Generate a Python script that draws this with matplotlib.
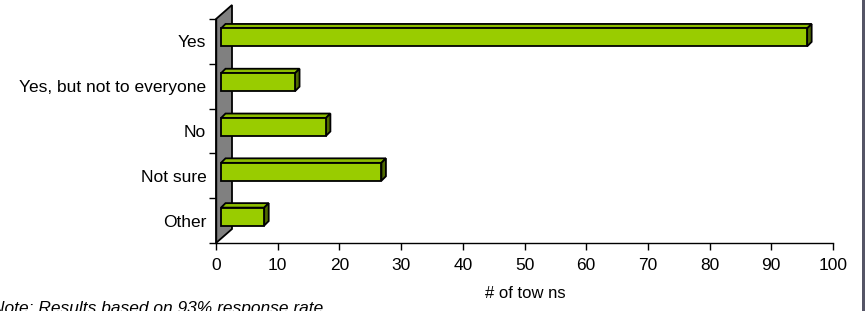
import matplotlib
matplotlib.use("Agg")
import matplotlib.pyplot as plt
from matplotlib.patches import Polygon, Rectangle

plt.rcParams["font.family"] = ["Liberation Sans", "DejaVu Sans"]

categories = ["Yes", "Yes, but not to everyone", "No", "Not sure", "Other"]
towns = [95, 12, 17, 26, 7]
x_ticks = [0, 10, 20, 30, 40, 50, 60, 70, 80, 90, 100]

FRONT = "#99cc00"
TOP = "#8dbd00"
SIDE = "#4f6a00"
WALL = "#808080"

DPI = 100
fig = plt.figure(figsize=(8.65, 3.11), dpi=DPI)
ax = fig.add_axes([216 / 865, 68 / 311, 617 / 865, 224 / 311])
ax.set_xlim(0, 100)
ax.set_ylim(len(categories) - 0.5, -0.5)

# pixel offsets for the fake 3D look
front_dx, front_dy = 5, 4
depth = 4.5
wall_dx, wall_dy = 16, 14
bar_h = 0.4


def px(x, y):
    return ax.transData.transform((x, y))


def add_px_poly(pts, color, z):
    # pts are display pixels
    ax.add_patch(Polygon(pts, closed=True, facecolor=color, edgecolor="black",
                         linewidth=1.3, transform=None, zorder=z, clip_on=False))


# back wall
bx0, by0 = px(0, len(categories) - 0.5)
bx1, by1 = px(0, -0.5)
add_px_poly([(bx0, by0), (bx1, by1), (bx1 + wall_dx, by1 + wall_dy),
             (bx0 + wall_dx, by0 + wall_dy)], WALL, 1)

for i, v in enumerate(towns):
    x0, yb = px(0, i + bar_h / 2)
    x1, yt = px(v, i - bar_h / 2)
    x0 += front_dx
    x1 += front_dx
    yb += front_dy
    yt += front_dy
    # top face
    add_px_poly([(x0, yt), (x1, yt), (x1 + depth, yt + depth), (x0 + depth, yt + depth)], TOP, 3)
    # side face
    add_px_poly([(x1, yb), (x1, yt), (x1 + depth, yt + depth), (x1 + depth, yb + depth)], SIDE, 3)
    # front face
    add_px_poly([(x0, yb), (x1, yb), (x1, yt), (x0, yt)], FRONT, 4)

ax.set_yticks(range(len(categories)))
ax.set_yticklabels(categories, fontsize=12.5)
ax.set_yticks([i - 0.5 for i in range(len(categories) + 1)], minor=True)
ax.tick_params(axis="y", which="major", length=0, pad=7)
ax.tick_params(axis="y", which="minor", length=5, width=1, direction="out")

ax.set_xticks(x_ticks)
ax.tick_params(axis="x", labelsize=12.5, length=5, width=1, pad=6)

for s in ["top", "right"]:
    ax.spines[s].set_visible(False)
ax.spines["bottom"].set_linewidth(1)
ax.spines["left"].set_linewidth(1)

fig.text(525 / 865, 1 - 294 / 311, "# of tow ns", fontsize=12, ha="center", va="center")

fig.text(-8 / 865, 1 - 313 / 311, "Note: Results based on 93% response rate",
         fontsize=12.5, style="italic", ha="left", va="baseline")

# dark frame edge on the right
fig.add_artist(Rectangle((862 / 865, 0), 3 / 865, 1, transform=fig.transFigure,
                         facecolor="#555566", edgecolor="none"))

fig.savefig("out.png", dpi=DPI)
